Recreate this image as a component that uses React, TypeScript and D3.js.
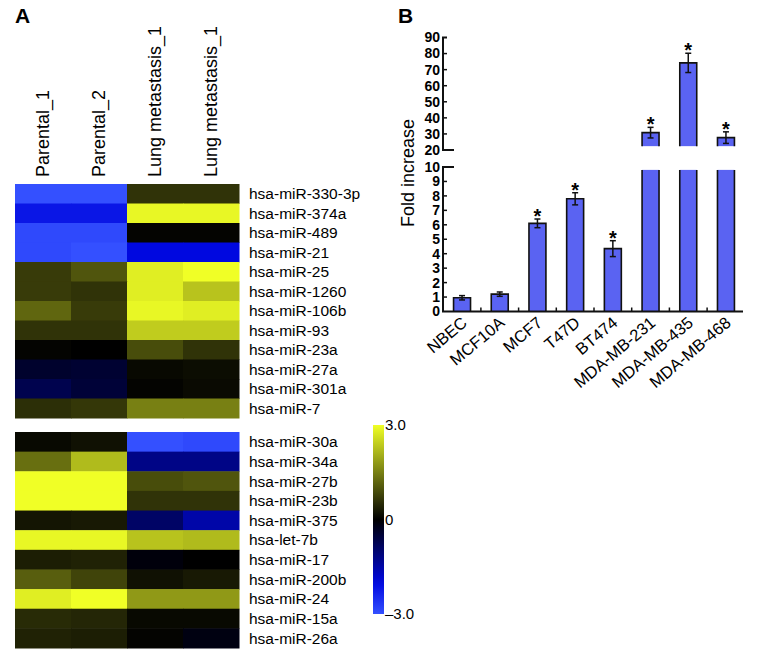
import { useEffect, useRef } from 'react';
import * as d3 from 'd3';

// heatmap (panel A)
const samples = ['Parental_1', 'Parental_2', 'Lung metastasis_1', 'Lung metastasis_1'];
const topGenes = [
    'hsa-miR-330-3p', 'hsa-miR-374a', 'hsa-miR-489', 'hsa-miR-21', 'hsa-miR-25', 'hsa-miR-1260',
    'hsa-miR-106b', 'hsa-miR-93', 'hsa-miR-23a', 'hsa-miR-27a', 'hsa-miR-301a', 'hsa-miR-7',
];
const topValues = [
    [-3.0, -3.0, 0.6, 0.6],
    [-2.2, -2.2, 2.9, 2.9],
    [-2.9, -2.9, 0.05, 0.05],
    [-2.9, -3.0, -2.0, -2.0],
    [0.7, 1.0, 2.8, 3.0],
    [0.7, 0.6, 2.8, 2.3],
    [1.2, 0.7, 2.9, 2.8],
    [0.6, 0.6, 2.4, 2.4],
    [0.05, 0.0, 0.9, 0.6],
    [-0.4, -0.45, 0.1, 0.15],
    [-0.7, -0.5, 0.05, 0.12],
    [0.55, 0.65, 1.5, 1.5],
];
const bottomGenes = [
    'hsa-miR-30a', 'hsa-miR-34a', 'hsa-miR-27b', 'hsa-miR-23b', 'hsa-miR-375', 'hsa-let-7b',
    'hsa-miR-17', 'hsa-miR-200b', 'hsa-miR-24', 'hsa-miR-15a', 'hsa-miR-26a',
];
const bottomValues = [
    [0.1, 0.2, -3.0, -2.9],
    [1.3, 2.2, -1.2, -1.2],
    [3.0, 3.0, 0.9, 1.0],
    [3.0, 3.0, 0.6, 0.6],
    [0.25, 0.3, -0.9, -1.5],
    [2.9, 2.9, 2.3, 2.2],
    [0.35, 0.4, -0.1, 0.0],
    [1.1, 0.8, 0.2, 0.3],
    [2.8, 3.0, 1.8, 1.8],
    [0.5, 0.45, 0.1, 0.1],
    [0.4, 0.35, 0.05, -0.15],
];
const colorTicks = [3, 0, -3];
const colorTickLabels = ['3.0', '0', '\u20133.0'];

// bar chart (panel B)
const cellLines = ['NBEC', 'MCF10A', 'MCF7', 'T47D', 'BT474', 'MDA-MB-231', 'MDA-MB-435', 'MDA-MB-468'];
const foldIncrease = [0.95, 1.2, 6.1, 7.8, 4.35, 30.8, 74.2, 27.7];
const foldError = [0.15, 0.15, 0.3, 0.42, 0.55, 3.3, 6.0, 3.6];
const significant = [false, false, true, true, true, true, true, true];
const lowerTicks = [0, 1, 2, 3, 4, 5, 6, 7, 8, 9, 10];
const upperTicks = [20, 30, 40, 50, 60, 70, 80, 90];

const FONT = '"Liberation Sans", Arial, sans-serif';

const App = () => {
    const ref = useRef<SVGSVGElement>(null);
    const width = 759,
        height = 654;

    useEffect(() => {
        const svg = d3.select(ref.current).attr('width', width).attr('height', height);
        svg.selectAll('*').remove();
        svg.attr('font-family', FONT);

        const color = d3
            .scaleLinear<string>()
            .domain([-3, -2, 0, 3])
            .range(['#3450ff', '#0008e0', '#000000', '#f0ff26'])
            .clamp(true);

        // ---------- panel A ----------
        svg.append('text').attr('x', 15).attr('y', 23).attr('font-size', 21).attr('font-weight', 'bold').text('A');

        const x = d3.scaleBand().domain(d3.range(samples.length).map(String)).range([15, 239]);
        const yTop = d3.scaleBand().domain(topGenes).range([184, 418]);
        const yBot = d3.scaleBand().domain(bottomGenes).range([432, 648]);

        samples.forEach((s, i) => {
            const cx = x(String(i))! + x.bandwidth() / 2;
            svg.append('text')
                .attr('transform', `translate(${cx},177) rotate(-90)`)
                .attr('dy', '0.35em')
                .attr('font-size', 18)
                .text(s);
        });

        const drawBlock = (genes: string[], values: number[][], y: d3.ScaleBand<string>) => {
            const g = svg.append('g');
            genes.forEach((gene, r) => {
                values[r].forEach((v, c) => {
                    g.append('rect')
                        .attr('x', x(String(c))!)
                        .attr('y', y(gene)!)
                        .attr('width', x.bandwidth() + 0.5)
                        .attr('height', y.bandwidth() + 0.5)
                        .attr('fill', color(v));
                });
                g.append('text')
                    .attr('x', 249)
                    .attr('y', y(gene)! + y.bandwidth() / 2)
                    .attr('dy', '0.35em')
                    .attr('font-size', 15.5)
                    .text(gene);
            });
        };
        drawBlock(topGenes, topValues, yTop);
        drawBlock(bottomGenes, bottomValues, yBot);

        // colour bar
        const cScale = d3.scaleLinear().domain([-3, 3]).range([614, 425]);
        const grad = svg.append('defs').append('linearGradient').attr('id', 'cbar')
            .attr('x1', 0).attr('y1', 1).attr('x2', 0).attr('y2', 0);
        d3.range(0, 1.0001, 0.05).forEach((t) => {
            grad.append('stop').attr('offset', t).attr('stop-color', color(-3 + 6 * t));
        });
        svg.append('rect').attr('x', 373).attr('y', cScale(3)).attr('width', 11)
            .attr('height', cScale(-3) - cScale(3)).attr('fill', 'url(#cbar)');
        colorTicks.forEach((t, i) => {
            svg.append('text').attr('x', 385).attr('y', cScale(t)).attr('dy', '0.35em')
                .attr('font-size', 15).text(colorTickLabels[i]);
        });

        // ---------- panel B ----------
        svg.append('text').attr('x', 398).attr('y', 23).attr('font-size', 21).attr('font-weight', 'bold').text('B');

        const axisX = 443;
        const xb = d3.scaleBand().domain(cellLines).range([443, 745]).paddingInner(0.55).paddingOuter(0.28);
        const yLow = d3.scaleLinear().domain([0, 10]).range([311.5, 167]);
        const yUp = d3.scaleLinear().domain([20, 90]).range([150, 37.5]);
        const lowCap = 9.8,
            upStart = 22.4;

        const bars = svg.append('g');
        cellLines.forEach((c, i) => {
            const v = foldIncrease[i];
            const x0 = xb(c)!,
                x1 = x0 + xb.bandwidth();
            const segs: [number, number, boolean][] = [];
            if (v <= 10) {
                segs.push([yLow(0), yLow(v), true]);
            } else {
                segs.push([yLow(0), yLow(lowCap), false]);
                segs.push([yUp(upStart), yUp(v), true]);
            }
            segs.forEach(([yb, yt, topEdge]) => {
                bars.append('rect').attr('x', x0).attr('y', yt).attr('width', x1 - x0).attr('height', yb - yt)
                    .attr('fill', '#5a63f2');
                const p = d3.path();
                p.moveTo(x0, yb);
                p.lineTo(x0, yt);
                if (topEdge) p.lineTo(x1, yt);
                else p.moveTo(x1, yt);
                p.lineTo(x1, yb);
                bars.append('path').attr('d', p.toString()).attr('fill', 'none').attr('stroke', '#111').attr('stroke-width', 1.6);
            });
            // error bar
            const ys = v <= 10 ? yLow : yUp;
            const cx = x0 + xb.bandwidth() / 2;
            const eTop = ys(v + foldError[i]),
                eBot = ys(v - foldError[i]);
            bars.append('line').attr('x1', cx).attr('x2', cx).attr('y1', eTop).attr('y2', eBot)
                .attr('stroke', '#111').attr('stroke-width', 1.5);
            [eTop, eBot].forEach((ey) => {
                bars.append('line').attr('x1', cx - 3).attr('x2', cx + 3).attr('y1', ey).attr('y2', ey)
                    .attr('stroke', '#111').attr('stroke-width', 1.5);
            });
            if (significant[i]) {
                bars.append('text').attr('x', cx).attr('y', eTop + 4).attr('text-anchor', 'middle')
                    .attr('font-size', 20).attr('font-weight', 'bold').text('*');
            }
        });

        // axes
        const ax = svg.append('g').attr('stroke', '#111').attr('stroke-width', 2).attr('fill', 'none');
        ax.append('path').attr('d', `M${axisX + 11},${yUp(20)}H${axisX}V${yUp(90)}H${axisX + 4}`);
        ax.append('path').attr('d', `M${axisX + 11},${yLow(10)}H${axisX}V${yLow(0)}H743`);
        upperTicks.slice(1, -1).forEach((t) => {
            ax.append('line').attr('x1', axisX).attr('x2', axisX + 4).attr('y1', yUp(t)).attr('y2', yUp(t)).attr('stroke-width', 1.5);
        });
        lowerTicks.slice(1, -1).forEach((t) => {
            ax.append('line').attr('x1', axisX).attr('x2', axisX + 4).attr('y1', yLow(t)).attr('y2', yLow(t)).attr('stroke-width', 1.5);
        });
        cellLines.slice(1).forEach((c) => {
            const bx = xb(c)! - (xb.step() - xb.bandwidth()) / 2;
            ax.append('line').attr('x1', bx).attr('x2', bx).attr('y1', yLow(0)).attr('y2', yLow(0) - 4).attr('stroke-width', 1.5);
        });

        const tl = svg.append('g').attr('font-size', 14).attr('font-weight', 'bold').attr('text-anchor', 'end');
        upperTicks.forEach((t) => {
            tl.append('text').attr('x', 440).attr('y', yUp(t)).attr('dy', '0.35em').text(t);
        });
        lowerTicks.forEach((t) => {
            tl.append('text').attr('x', 440).attr('y', yLow(t)).attr('dy', '0.35em').text(t);
        });

        svg.append('text')
            .attr('transform', `translate(408,173) rotate(-90)`)
            .attr('text-anchor', 'middle')
            .attr('dy', '0.35em')
            .attr('font-size', 18)
            .text('Fold increase');

        cellLines.forEach((c) => {
            const cx = xb(c)! + xb.bandwidth() / 2;
            svg.append('text')
                .attr('transform', `translate(${cx + 6},${yLow(0) + 13}) rotate(-40)`)
                .attr('text-anchor', 'end')
                .attr('font-size', 16.5)
                .text(c);
        });
    }, []);

    return <svg ref={ref} style={{ position: 'absolute', left: 0, top: 0 }}></svg>;
};

export default App;
